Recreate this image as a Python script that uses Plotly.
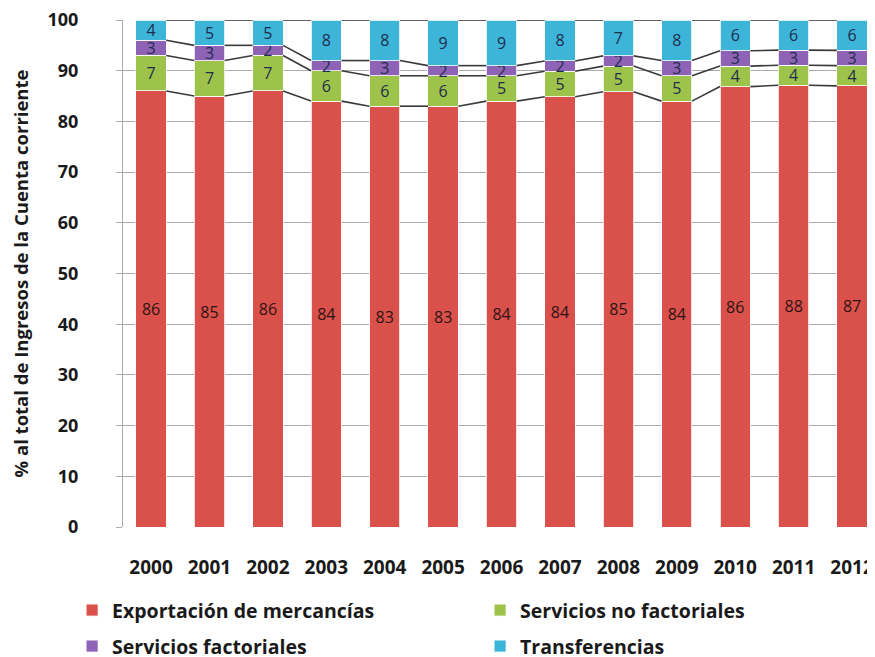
import plotly.graph_objects as go
import numpy as np

years = [2000, 2001, 2002, 2003, 2004, 2005, 2006, 2007, 2008, 2009, 2010, 2011, 2012]
exportacion = [86, 85, 86, 84, 83, 83, 84, 84, 85, 84, 86, 88, 87]
serv_no_fact = [7, 7, 7, 6, 6, 6, 5, 5, 5, 5, 4, 4, 4]
serv_fact = [3, 3, 2, 2, 3, 2, 2, 2, 2, 3, 3, 3, 3]
transferencias = [4, 5, 5, 8, 8, 9, 9, 8, 7, 8, 6, 6, 6]

names = ["Exportación de mercancías", "Servicios no factoriales",
         "Servicios factoriales", "Transferencias"]
series = [exportacion, serv_no_fact, serv_fact, transferencias]
colors = ["#D9514A", "#9DC34A", "#8E63B5", "#3DB5D8"]
text_colors = ["#2E1414", "#1F2D4D", "#1F2D4D", "#1F2D4D"]
legends = ["legend", "legend", "legend2", "legend2"]

BAR_W = 0.52
FONT = "Open Sans"

fig = go.Figure()

# normalised stack (100 %)
arr = np.array(series, dtype=float)
norm = arr / arr.sum(axis=0) * 100
cum = np.cumsum(norm, axis=0)

for name, vals, nv, col, tc, lg in zip(names, series, norm, colors, text_colors, legends):
    fig.add_trace(go.Bar(
        x=years, y=nv, name=name, width=BAR_W,
        marker=dict(color=col, line=dict(color="#FFFFFF", width=0.8)),
        text=[str(v) for v in vals], textposition="inside",
        insidetextanchor="middle", textangle=0, constraintext="none",
        textfont=dict(family=FONT, size=16, color=tc),
        legend=lg, hoverinfo="skip",
    ))

# series lines between bars
for k, level in enumerate(cum):
    xs, ys = [], []
    for i in range(len(years) - 1):
        xs += [years[i] + BAR_W / 2, years[i + 1] - BAR_W / 2, None]
        ys += [level[i], level[i + 1], None]
    fig.add_trace(go.Scatter(x=xs, y=ys, mode="lines",
                             line=dict(color="#3A3A3A", width=1.6),
                             showlegend=False, hoverinfo="skip"))

legend_font = dict(family=FONT, size=19.5, color="#1A1A1A", weight="bold")

fig.update_layout(
    barmode="stack",
    width=875, height=657,
    margin=dict(l=115, r=0, t=12, b=138, autoexpand=False),
    paper_bgcolor="white", plot_bgcolor="white",
    font=dict(family=FONT, color="#1A1A1A"),
    xaxis=dict(
        range=[years[0] - 0.48, years[-1] + 0.53],
        tickmode="array", tickvals=years, ticktext=[str(y) for y in years],
        tickfont=dict(family=FONT, size=19, color="#1A1A1A", weight="bold"),
        showgrid=False, showline=False, ticks="", ticklabelstandoff=27,
        zeroline=False, ticklabeloverflow="allow",
    ),
    yaxis=dict(
        range=[0, 100.0001], tickmode="array", tickvals=list(range(0, 101, 10)),
        tickfont=dict(family=FONT, size=18, color="#1A1A1A", weight="bold"),
        showgrid=True, gridcolor="#ABABAB", gridwidth=1,
        showline=True, linecolor="#ABABAB", linewidth=1,
        ticks="outside", ticklen=6, tickcolor="#ABABAB",
        ticklabelstandoff=34, zeroline=False, ticklabeloverflow="allow",
        title=dict(text="% al total de Ingresos de la Cuenta corriente",
                   font=dict(family=FONT, size=18.5, color="#1A1A1A", weight="bold"),
                   standoff=20),
    ),
    legend=dict(orientation="h", x=-0.067, y=-0.126, xanchor="left", yanchor="top",
                entrywidth=363, entrywidthmode="pixels", traceorder="normal",
                font=legend_font, itemclick=False),
    legend2=dict(orientation="h", x=-0.067, y=-0.197, xanchor="left", yanchor="top",
                 entrywidth=363, entrywidthmode="pixels", traceorder="normal",
                 font=legend_font, itemclick=False),
)

fig.write_html("out.html")
